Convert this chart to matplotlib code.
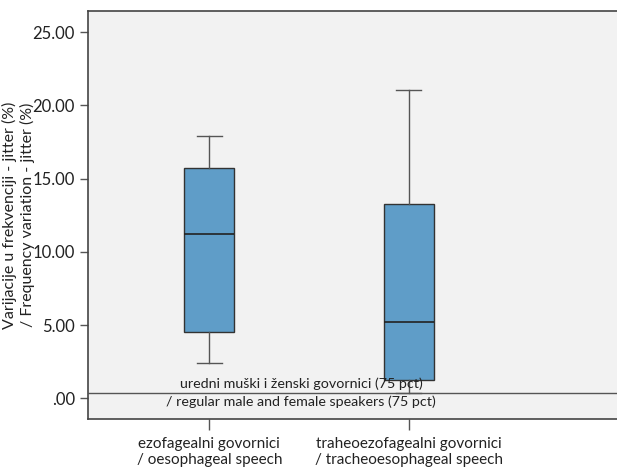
import matplotlib
matplotlib.use("Agg")
import matplotlib.pyplot as plt

# values
groups = ["ezofagealni govornici\n/ oesophageal speech",
          "traheoezofagealni govornici\n/ tracheoesophageal speech"]
whisker_low = [2.43, 0.35]
q1 = [4.51, 1.25]
median = [11.22, 5.21]
q3 = [15.73, 13.29]
whisker_high = [17.92, 21.04]
y_ticks = [0, 5, 10, 15, 20, 25]
y_ticklabels = [".00", "5.00", "10.00", "15.00", "20.00", "25.00"]
reference_value = 0.38
reference_label = "uredni muški i ženski govornici (75 pct)\n/ regular male and female speakers (75 pct)"

plt.rcParams['font.family'] = ['Lato', 'DejaVu Sans']

fig = plt.figure(figsize=(6.17, 4.70), dpi=100)
ax = fig.add_axes([88/617, 1 - 419/470, 0.90, 408/470])
ax.set_facecolor('#f2f2f2')

stats = []
for i in range(len(groups)):
    stats.append({'whislo': whisker_low[i], 'q1': q1[i], 'med': median[i],
                  'q3': q3[i], 'whishi': whisker_high[i], 'fliers': []})

ax.bxp(stats, positions=[1, 2], widths=0.25, patch_artist=True,
       boxprops=dict(facecolor='#5f9dc8', edgecolor='#333333', linewidth=1.0),
       medianprops=dict(color='#222222', linewidth=1.2),
       whiskerprops=dict(color='#555555', linewidth=1.0),
       capprops=dict(color='#555555', linewidth=1.0),
       capwidths=0.125, zorder=3)

# reference line
ax.axhline(reference_value, color='#555555', linewidth=1.0, zorder=4)
ax.text(1.46, reference_value, reference_label, ha='center', va='center',
        fontsize=10.3, color='#222222', linespacing=1.55, zorder=5)

ax.set_xlim(0.392, 3.174)
ax.set_ylim(-1.41, 26.45)
ax.set_xticks([1, 2])
ax.set_xticklabels(groups, fontsize=11, color='#222222', linespacing=1.15)
ax.set_yticks(y_ticks)
ax.set_yticklabels(y_ticklabels, fontsize=12, color='#222222')
ax.tick_params(axis='both', length=6, color='#555555', width=1)
ax.tick_params(axis='x', length=8, pad=5)

for side in ['top', 'left', 'bottom']:
    ax.spines[side].set_color('#444444')
    ax.spines[side].set_linewidth(1.2)
ax.spines['right'].set_visible(False)

ax.set_ylabel("Varijacije u frekvenciji - jitter (%)\n/ Frequency variation - jitter (%)",
              fontsize=11.5, color='#222222', linespacing=1.2)
ax.yaxis.set_label_coords(-0.096, 0.5)

fig.savefig("out.png", dpi=100)
